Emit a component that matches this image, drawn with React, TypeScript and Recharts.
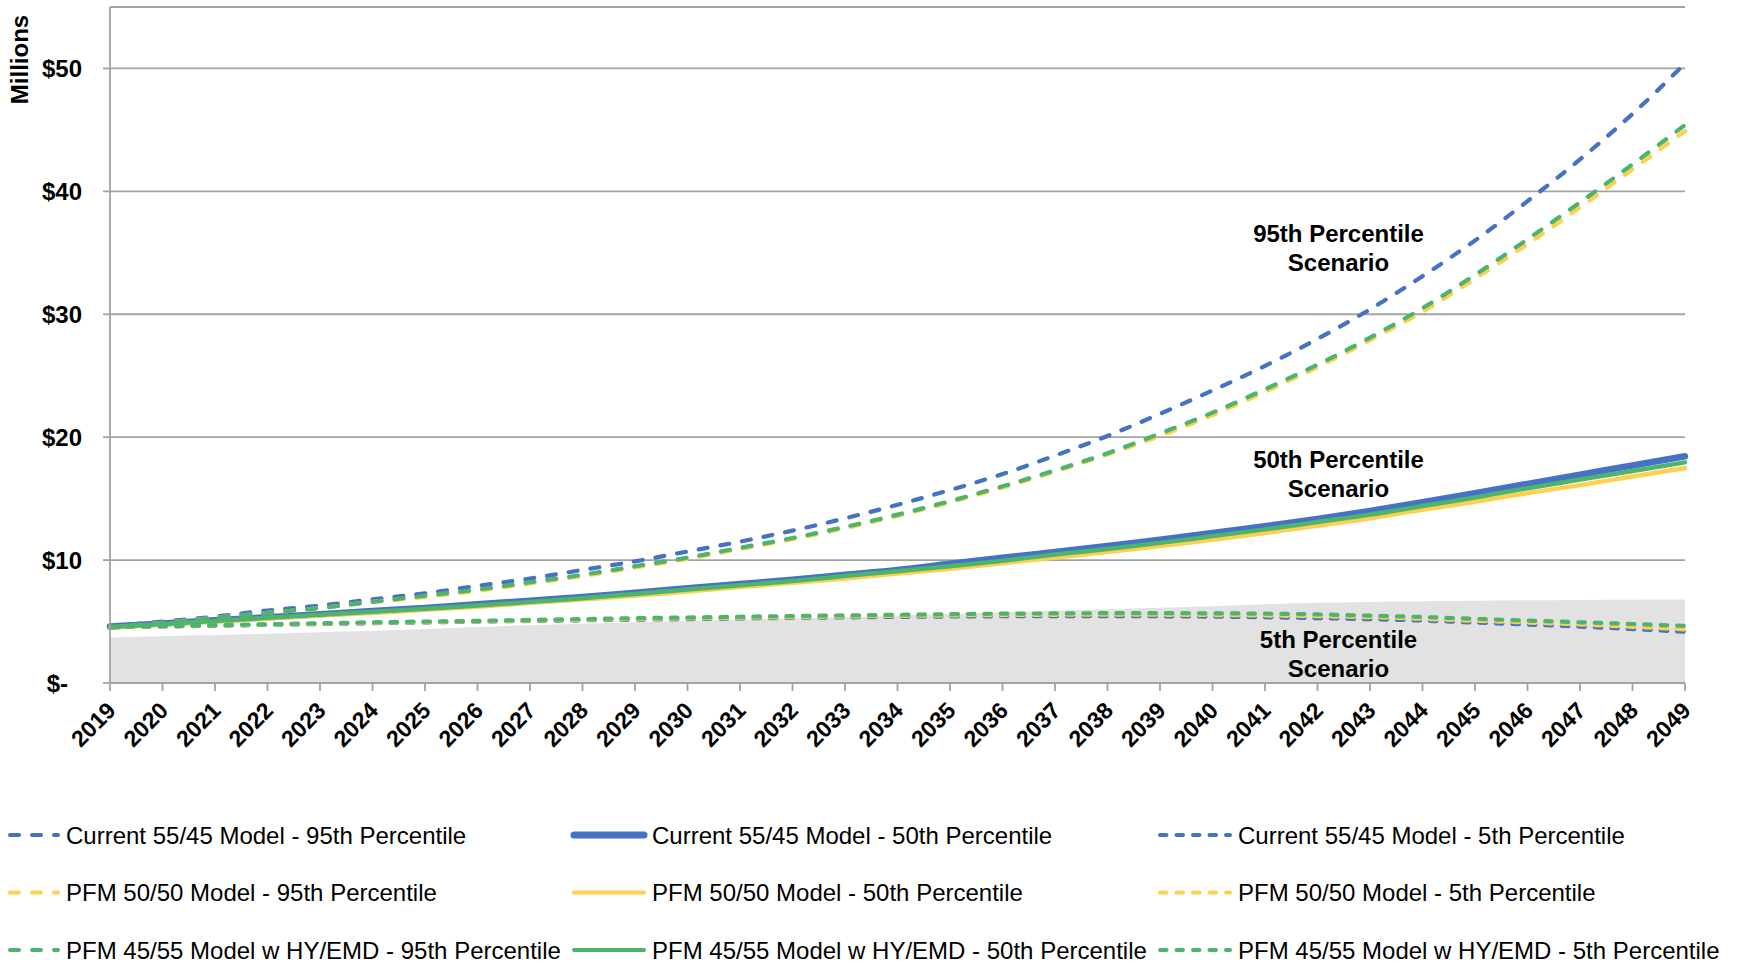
import React from 'react';
import { ComposedChart, Line, Area, XAxis, YAxis, CartesianGrid, ReferenceDot } from 'recharts';

const FONT = '"Liberation Sans", Arial, Helvetica, sans-serif';
const BLUE = '#4472c4';
const YELLOW = '#ffd04d';
const GREEN = '#4eb36d';

const years = [
  2019, 2020, 2021, 2022, 2023, 2024, 2025, 2026, 2027, 2028, 2029, 2030, 2031, 2032, 2033, 2034,
  2035, 2036, 2037, 2038, 2039, 2040, 2041, 2042, 2043, 2044, 2045, 2046, 2047, 2048, 2049,
];

const current95 = [4.6, 5.0, 5.4, 5.9, 6.3, 6.8, 7.3, 7.9, 8.5, 9.2, 9.9, 10.7, 11.5, 12.4, 13.4, 14.5, 15.7, 17.0, 18.5, 20.1, 21.9, 23.8, 25.8, 28.0, 30.4, 33.1, 36.0, 39.2, 42.6, 46.3, 50.4];
const current50 = [4.6, 4.85, 5.1, 5.35, 5.6, 5.85, 6.1, 6.4, 6.7, 7.0, 7.35, 7.7, 8.05, 8.4, 8.8, 9.2, 9.7, 10.2, 10.65, 11.15, 11.65, 12.2, 12.75, 13.35, 14.0, 14.7, 15.45, 16.2, 16.95, 17.7, 18.45];
const current5 = [4.55, 4.6, 4.66, 4.73, 4.8, 4.87, 4.93, 4.99, 5.05, 5.1, 5.15, 5.2, 5.25, 5.3, 5.34, 5.38, 5.41, 5.43, 5.44, 5.44, 5.43, 5.4, 5.35, 5.28, 5.19, 5.08, 4.92, 4.76, 4.59, 4.39, 4.17];

const pfm5050_95 = [4.5, 4.9, 5.3, 5.7, 6.1, 6.6, 7.0, 7.5, 8.1, 8.7, 9.4, 10.1, 10.9, 11.7, 12.6, 13.6, 14.7, 15.9, 17.2, 18.6, 20.1, 21.8, 23.7, 25.7, 27.9, 30.2, 32.9, 35.7, 38.7, 41.8, 44.9];
const pfm5050_50 = [4.5, 4.75, 5.0, 5.25, 5.5, 5.7, 5.95, 6.2, 6.5, 6.8, 7.1, 7.45, 7.8, 8.15, 8.5, 8.9, 9.3, 9.75, 10.2, 10.65, 11.15, 11.65, 12.2, 12.8, 13.4, 14.1, 14.75, 15.45, 16.1, 16.8, 17.5];
const pfm5050_5 = [4.55, 4.61, 4.68, 4.76, 4.83, 4.9, 4.96, 5.02, 5.08, 5.14, 5.2, 5.26, 5.31, 5.36, 5.41, 5.46, 5.5, 5.53, 5.55, 5.56, 5.55, 5.53, 5.49, 5.43, 5.35, 5.22, 5.06, 4.92, 4.76, 4.57, 4.36];

const pfm4555_95 = [4.5, 4.9, 5.3, 5.7, 6.1, 6.6, 7.1, 7.6, 8.2, 8.8, 9.5, 10.2, 11.0, 11.8, 12.7, 13.7, 14.8, 16.0, 17.3, 18.7, 20.3, 22.0, 23.9, 25.9, 28.1, 30.5, 33.2, 36.1, 39.1, 42.2, 45.4];
const pfm4555_50 = [4.55, 4.8, 5.05, 5.3, 5.55, 5.8, 6.05, 6.3, 6.6, 6.9, 7.25, 7.6, 7.95, 8.3, 8.7, 9.1, 9.5, 9.95, 10.45, 10.9, 11.4, 11.95, 12.5, 13.1, 13.7, 14.4, 15.1, 15.85, 16.55, 17.25, 17.95];
const pfm4555_5 = [4.55, 4.62, 4.7, 4.78, 4.86, 4.94, 5.0, 5.06, 5.13, 5.2, 5.27, 5.33, 5.39, 5.45, 5.5, 5.55, 5.6, 5.64, 5.66, 5.68, 5.68, 5.67, 5.64, 5.58, 5.48, 5.37, 5.22, 5.08, 4.94, 4.8, 4.64];

// grey background band under the 5th percentile lines
const band = [3.7, 3.8, 3.9, 4.0, 4.12, 4.25, 4.4, 4.55, 4.7, 4.82, 4.95, 5.05, 5.15, 5.25, 5.35, 5.5, 5.62, 5.75, 5.88, 6.0, 6.12, 6.25, 6.4, 6.52, 6.6, 6.65, 6.7, 6.73, 6.76, 6.78, 6.8];

const yTicks = [0, 10, 20, 30, 40, 50];

const scenarioLabels = [
  { year: 2042.4, value: 36.6, lines: ['95th Percentile', 'Scenario'] },
  { year: 2042.4, value: 18.2, lines: ['50th Percentile', 'Scenario'] },
  { year: 2042.4, value: 3.55, lines: ['5th Percentile', 'Scenario'] },
];

const DASH = '9 13';
const SHORT = '6.5 10';

const series = [
  { key: 'current95', name: 'Current 55/45 Model - 95th Percentile', values: current95, color: BLUE, width: 4.2, dash: DASH },
  { key: 'current50', name: 'Current 55/45 Model - 50th Percentile', values: current50, color: BLUE, width: 6.5, dash: undefined },
  { key: 'current5', name: 'Current 55/45 Model - 5th Percentile', values: current5, color: BLUE, width: 4.2, dash: SHORT },
  { key: 'pfm5050_95', name: 'PFM 50/50 Model - 95th Percentile', values: pfm5050_95, color: YELLOW, width: 4.2, dash: DASH },
  { key: 'pfm5050_50', name: 'PFM 50/50 Model - 50th Percentile', values: pfm5050_50, color: YELLOW, width: 4.5, dash: undefined },
  { key: 'pfm5050_5', name: 'PFM 50/50 Model - 5th Percentile', values: pfm5050_5, color: YELLOW, width: 4.2, dash: SHORT },
  { key: 'pfm4555_95', name: 'PFM 45/55 Model w HY/EMD - 95th Percentile', values: pfm4555_95, color: GREEN, width: 4.2, dash: DASH },
  { key: 'pfm4555_50', name: 'PFM 45/55 Model w HY/EMD - 50th Percentile', values: pfm4555_50, color: GREEN, width: 4.5, dash: undefined },
  { key: 'pfm4555_5', name: 'PFM 45/55 Model w HY/EMD - 5th Percentile', values: pfm4555_5, color: GREEN, width: 4.2, dash: SHORT },
];

const data = years.map((year, i) => {
  const row: any = { year, band: band[i] };
  series.forEach((s) => {
    row[s.key] = s.values[i];
  });
  return row;
});

const YTick = ({ x, y, payload }: any) => (
  <text
    x={payload.value === 0 ? x - 35 : x - 21}
    y={y}
    dy="0.36em"
    textAnchor="end"
    fontFamily={FONT}
    fontWeight="bold"
    fontSize={24}
    fill="#000"
  >
    {payload.value === 0 ? '$-' : `$${payload.value}`}
  </text>
);

const XTick = ({ x, y, payload }: any) => (
  <text
    x={x + 7}
    y={y + 21}
    textAnchor="end"
    transform={`rotate(-45, ${x + 7}, ${y + 21})`}
    fontFamily={FONT}
    fontWeight="bold"
    fontSize={23}
    fill="#000"
  >
    {payload.value}
  </text>
);

const MillionsLabel = ({ viewBox }: any) => {
  const cx = viewBox.x + 19;
  const cy = viewBox.y + 52.5;
  return (
    <text
      x={cx}
      y={cy}
      dy="0.36em"
      textAnchor="middle"
      transform={`rotate(-90, ${cx}, ${cy})`}
      fontFamily={FONT}
      fontWeight="bold"
      fontSize={24}
      fill="#000"
    >
      Millions
    </text>
  );
};

const ScenarioText = (lines: string[]) => (props: any) => (
  <text x={props.cx} y={props.cy} textAnchor="middle" fontFamily={FONT} fontWeight="bold" fontSize={24} fill="#000">
    {lines.map((l, i) => (
      <tspan key={l} x={props.cx} dy={i === 0 ? '0.36em' : 29}>
        {l}
      </tspan>
    ))}
  </text>
);

const LegendOverlay = () => (
  <svg width={1738} height={964} style={{ position: 'absolute', left: 0, top: 0, pointerEvents: 'none' }}>
    {series.map((s, i) => {
      const col = i % 3;
      const row = Math.floor(i / 3);
      const x0 = -12 + col * 586;
      const y = 835 + row * 57.5;
      return (
        <g key={s.key}>
          <line
            x1={x0}
            x2={x0 + 70}
            y1={y}
            y2={y}
            stroke={s.color}
            strokeWidth={s.key === 'current50' ? 7 : 4}
            strokeDasharray={s.dash}
            strokeLinecap="round"
          />
          <text x={x0 + 78} y={y} dy="0.36em" fontFamily={FONT} fontSize={24} fill="#000">
            {s.name}
          </text>
        </g>
      );
    })}
  </svg>
);

const App: React.FC = () => {
  return (
    <div style={{ position: 'relative', width: 1738, height: 964, background: '#fff', overflow: 'hidden' }}>
      <style>{'html, body { margin: 0; padding: 0; overflow: hidden; }'}</style>
      <ComposedChart width={1738} height={964} data={data} margin={{ top: 7, right: 53, left: 0, bottom: 201 }}>
        <CartesianGrid vertical={false} stroke="#a3a3a3" strokeWidth={1.8} />
        <XAxis
          dataKey="year"
          type="number"
          domain={[2019, 2049]}
          ticks={years}
          interval={0}
          height={80}
          tickSize={8}
          tickMargin={0}
          tick={<XTick />}
          axisLine={{ stroke: '#a3a3a3', strokeWidth: 1.8 }}
          tickLine={{ stroke: '#a3a3a3', strokeWidth: 1.8 }}
        />
        <YAxis
          type="number"
          domain={[0, 55]}
          ticks={yTicks}
          interval={0}
          width={110}
          tickSize={7}
          tickMargin={0}
          tick={<YTick />}
          axisLine={{ stroke: '#a3a3a3', strokeWidth: 1.8 }}
          tickLine={{ stroke: '#a3a3a3', strokeWidth: 1.8 }}
          label={<MillionsLabel />}
        />
        <Area
          dataKey="band"
          type="monotone"
          fill="#e2e2e2"
          fillOpacity={1}
          stroke="none"
          isAnimationActive={false}
          activeDot={false}
        />
        {series.map((s) => (
          <Line
            key={s.key}
            dataKey={s.key}
            name={s.name}
            type="monotone"
            stroke={s.color}
            strokeWidth={s.width}
            strokeDasharray={s.dash}
            strokeLinecap="round"
            dot={false}
            activeDot={false}
            isAnimationActive={false}
          />
        ))}
        {scenarioLabels.map((l) => (
          <ReferenceDot key={l.lines[0]} x={l.year} y={l.value} r={1} shape={ScenarioText(l.lines)} />
        ))}
      </ComposedChart>
      <LegendOverlay />
    </div>
  );
};

export default App;
